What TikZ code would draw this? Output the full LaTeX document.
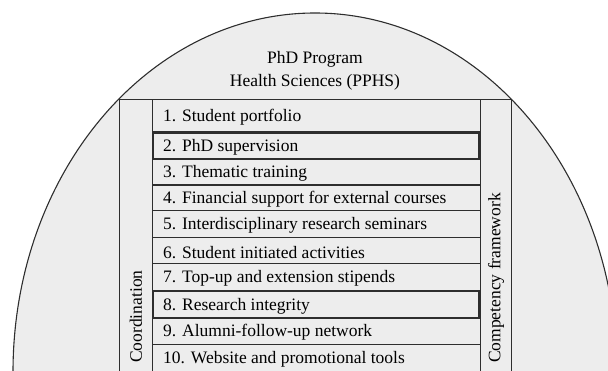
\documentclass[tikz,border=0pt]{standalone}
\usepackage{fontspec}
\setmainfont{Liberation Serif}
\definecolor{fillgray}{HTML}{EDEDED}
\definecolor{linegray}{HTML}{2E2E2E}
\newcommand{\rowfont}{\fontsize{17.5}{21}\selectfont}
\begin{document}
\begin{tikzpicture}[x=1pt,y=1pt,
  outline/.style={draw=linegray,line width=1.1pt},
  rowbox/.style={draw=linegray,line width=1.0pt,anchor=north west,inner sep=0pt,minimum width=328pt},
  boldbox/.style={draw=linegray,line width=1.6pt,anchor=north west,inner sep=0pt,minimum width=326pt},
  rowtext/.style={anchor=west,inner sep=0pt,font=\rowfont},
  sidetext/.style={rotate=90,anchor=west,inner sep=0pt,font=\rowfont}]
\useasboundingbox (0,0) rectangle (608,-371);
\clip (0,0) rectangle (608,-371);
% half ellipse
\fill[fillgray] (617,-372) arc[start angle=0,end angle=180,x radius=302,y radius=359] -- cycle;
\draw[outline] (617,-372) arc[start angle=0,end angle=180,x radius=302,y radius=359];
% title
\node[align=center,font=\fontsize{17.5}{22.5}\selectfont] (title) at (315,-71) {PhD Program\\Health Sciences (PPHS)};
% frame and side bars
\node[draw=linegray,line width=1.1pt,anchor=north west,minimum width=33pt,minimum height=320pt,inner sep=0pt] (coordbar) at (119,-99.3) {};
\node[draw=linegray,line width=1.1pt,anchor=north west,minimum width=31pt,minimum height=320pt,inner sep=0pt] (compbar) at (480,-99.3) {};
\node[sidetext] (coord) at (136,-363) {Coordination};
\node[sidetext] (comp) at (496,-363) {Competency framework};
% rows
\node[rowbox,minimum height=31.4pt] (r1) at (152,-99.3) {};
\node[rowbox,minimum height=26.3pt] (r3) at (152,-158.3) {};
\node[rowbox,minimum height=26.5pt] (r4) at (152,-184.0) {};
\node[rowbox,minimum height=26.5pt] (r5) at (152,-210.5) {};
\node[rowbox,minimum height=26.2pt] (r6) at (152,-237.0) {};
\node[rowbox,minimum height=26.6pt] (r7) at (152,-263.2) {};
\node[rowbox,minimum height=26.5pt] (r9) at (152,-317.3) {};
\node[rowbox,minimum height=40pt] (r10) at (152,-343.8) {};
\node[boldbox,minimum height=26.3pt] (r2) at (152,-132.0) {};
\node[boldbox,minimum height=26.8pt] (r8) at (152,-290.5) {};
% row texts
\begin{scope}[every node/.append style={yshift=-1.5pt}]
\node[rowtext] at ([xshift=11pt]r1.west) {1. Student portfolio};
\node[rowtext] at ([xshift=11pt]r2.west) {2. PhD supervision};
\node[rowtext] at ([xshift=11pt]r3.west) {3. Thematic training};
\node[rowtext] at ([xshift=11pt]r4.west) {4. Financial support for external courses};
\node[rowtext] at ([xshift=11pt]r5.west) {5. Interdisciplinary research seminars};
\node[rowtext] at ([xshift=11pt]r6.west) {6. Student initiated activities};
\node[rowtext] at ([xshift=11pt]r7.west) {7. Top-up and extension stipends};
\node[rowtext] at ([xshift=11pt]r8.west) {8. Research integrity};
\node[rowtext] at ([xshift=11pt]r9.west) {9. Alumni-follow-up network};
\node[rowtext] at ([xshift=11pt,yshift=-13.5pt]r10.north west) {10. Website and promotional tools};
\end{scope}
\end{tikzpicture}
\end{document}
